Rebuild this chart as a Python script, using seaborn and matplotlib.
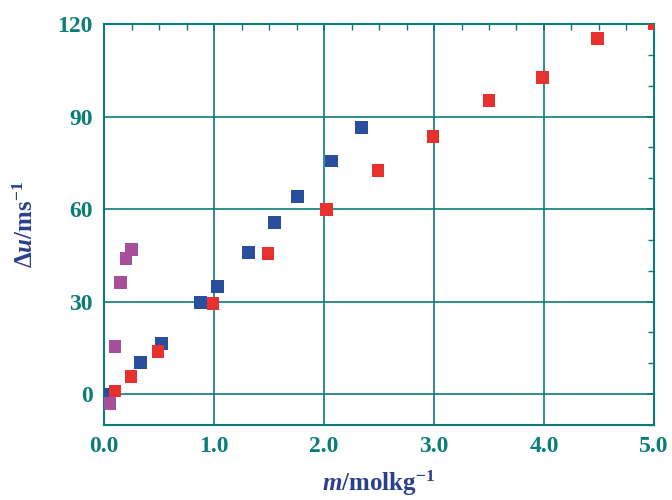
import matplotlib
matplotlib.use("Agg")
import matplotlib.pyplot as plt
import seaborn as sns
import pandas as pd
from matplotlib.ticker import MultipleLocator

# Data
blue_m = [0.0, 0.33, 0.52, 0.88, 1.03, 1.31, 1.55, 1.76, 2.07, 2.34]
blue_du = [0.0, 10.3, 16.5, 29.8, 34.9, 45.8, 55.6, 64.0, 75.6, 86.5]
red_m = [0.10, 0.245, 0.49, 0.99, 1.49, 2.02, 2.49, 2.99, 3.50, 3.99, 4.49, 5.0]
red_du = [1.0, 5.8, 13.9, 29.4, 45.5, 59.8, 72.4, 83.6, 95.2, 102.6, 115.3, 120.0]
mag_m = [0.05, 0.10, 0.15, 0.20, 0.25]
mag_du = [-2.9, 15.5, 36.1, 44.0, 46.9]

series_names = ["blue", "red", "magenta"]
colors = {"blue": "#2a4e9e", "red": "#e8302f", "magenta": "#a84f9c"}

df = pd.concat([
    pd.DataFrame({"m": blue_m, "du": blue_du, "s": "blue"}),
    pd.DataFrame({"m": red_m, "du": red_du, "s": "red"}),
    pd.DataFrame({"m": mag_m, "du": mag_du, "s": "magenta"}),
], ignore_index=True)

sns.set_style("white")
plt.rcParams['font.family'] = ['Liberation Serif', 'DejaVu Serif']
plt.rcParams['mathtext.fontset'] = 'custom'
plt.rcParams['mathtext.rm'] = 'Liberation Serif:bold'
plt.rcParams['mathtext.it'] = 'Liberation Serif:italic:bold'
plt.rcParams['mathtext.bf'] = 'Liberation Serif:bold'
plt.rcParams['mathtext.sf'] = 'Liberation Serif:bold'

teal = "#0a7d78"
label_blue = "#2b3f8f"

fig = plt.figure(figsize=(6.72, 5.0), dpi=100)
ax = fig.add_axes([0.1548, 0.15, 0.8184, 0.802])

sns.scatterplot(data=df, x="m", y="du", hue="s", palette=colors,
                hue_order=series_names, marker="s", s=85, linewidth=0,
                legend=False, ax=ax, zorder=3)

ax.set_xlim(0, 5.0)
ax.set_ylim(-10, 120)
ax.xaxis.set_minor_locator(MultipleLocator(0.25))
ax.yaxis.set_minor_locator(MultipleLocator(10))
ax.set_xticks([0, 1, 2, 3, 4, 5])
ax.set_xticklabels(["0.0", "1.0", "2.0", "3.0", "4.0", "5.0"])
ax.set_yticks([0, 30, 60, 90, 120])
ax.set_yticklabels(["0", "30", "60", "90", "120"])

ax.grid(True, which="major", color=teal, linewidth=1.2, zorder=1)
ax.set_axisbelow(True)
for sp in ax.spines.values():
    sp.set_color(teal)
    sp.set_linewidth(1.5)

ax.tick_params(which="both", direction="in", top=True, right=True,
               color=teal, labelcolor=teal)
ax.tick_params(which="major", length=5, width=1.3, labelsize=17, pad=8)
ax.tick_params(which="minor", length=4, width=1.0)
for lbl in ax.get_xticklabels() + ax.get_yticklabels():
    lbl.set_fontweight("bold")

ax.set_xlabel(r"$m$/molkg$^{-1}$", fontsize=18, fontweight="bold",
              color=label_blue, labelpad=8)
ax.set_ylabel(r"$\Delta u$/ms$^{-1}$", fontsize=18, fontweight="bold",
              color=label_blue, labelpad=14)

fig.savefig("out.png", dpi=100)
